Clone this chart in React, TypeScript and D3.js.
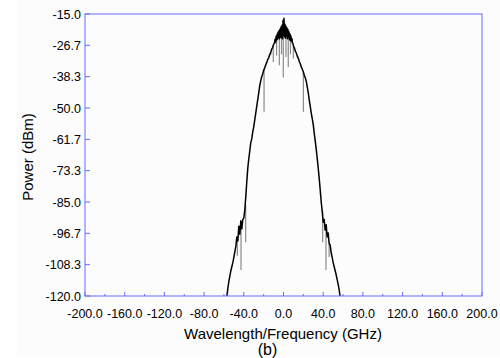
import * as d3 from "d3";

// main trace: [frequency GHz, power dBm]
const trace: [number, number][] = [
  [-57, -120], [-56, -117], [-55, -114.5], [-54, -112.5], [-53, -110.5], [-52, -109],
  [-51, -107.5], [-50, -105.5], [-49, -103.5], [-48, -101.5], [-47, -98], [-46, -99.5],
  [-45, -94], [-44, -97], [-43, -92], [-42, -95], [-41, -91.5], [-40, -91], [-39, -88],
  [-38, -83], [-37, -77.5], [-36, -72.5], [-35, -69], [-34, -66], [-33, -63], [-32, -61.5],
  [-31, -59], [-30, -57], [-29, -54.5], [-28, -52], [-27, -49.5], [-26, -47], [-25, -44.5],
  [-24, -41.8], [-23, -40], [-22, -38.4], [-21, -37.4], [-20, -36], [-19, -35.2], [-18, -34],
  [-17, -33.2], [-16, -32], [-15, -31.4], [-14, -30.2], [-13, -29.5], [-12, -28.2], [-11, -27.5],
  [-10, -26.4], [-9.5, -26], [-9, -25.5], [-8.5, -24.4], [-8, -25.6], [-7.5, -23.4], [-7, -24.8],
  [-6.5, -22.6], [-6, -24.4], [-5.5, -21.8], [-5, -23.8], [-4.5, -21.2], [-4, -24.2],
  [-3.5, -20.6], [-3, -23.6], [-2.5, -19.8], [-2, -23.8], [-1.5, -19.2], [-1, -24.2],
  [-0.5, -17.4], [0, -22.8], [0.5, -16.6], [1, -23.6], [1.5, -18.8], [2, -24], [2.5, -19.6],
  [3, -23.4], [3.5, -20.2], [4, -24.2], [4.5, -20.8], [5, -23.6], [5.5, -21.6], [6, -24.6],
  [6.5, -22.4], [7, -24.8], [7.5, -23.2], [8, -25.2], [8.5, -24.2], [9, -25.8], [9.5, -26],
  [10, -26.8], [11, -27.7], [12, -28.9], [13, -29.6], [14, -30.8], [15, -31.6], [16, -32.8],
  [17, -33.6], [18, -34.8], [19, -35.6], [20, -36.6], [21, -37.8], [22, -38.8], [23, -40.2],
  [24, -42.3], [25, -44.5], [26, -47.2], [27, -49.5], [28, -52], [29, -54], [30, -56.3],
  [31, -59.5], [32, -62.3], [33, -65.4], [34, -68.8], [35, -72.5], [36, -76.3], [37, -80.5],
  [38, -85], [39, -88.5], [40, -92.5], [41, -91.5], [42, -95.5], [43, -93.5], [44, -98],
  [45, -96.5], [46, -100.5], [47, -101], [48, -103.8], [49, -105.5], [50, -107.5], [51, -109],
  [52, -110.5], [53, -112], [54, -113.8], [55, -115.5], [56, -117.5], [57, -120],
];

// grey noise dips: frequency, top, bottom
const spikeFreq = [-19.6, -12.9, -10.3, -7, -4.2, -2, -0.2, 2.5, 4.8, 7, 9.9, 20, -46.5, -42.8, -38.1, 39.5, 42.8, 46];
const spikeTop = [-35.2, -29.5, -26.4, -24.8, -24.2, -23.8, -22.8, -24, -23.6, -24.8, -26.8, -36.6, -99.5, -92, -86, -88.5, -93.5, -100.5];
const spikeBottom = [-51.4, -30.4, -32.9, -30.5, -34.1, -30, -38.6, -31, -34.7, -30, -31.6, -51.4, -105, -110.3, -100, -100, -110.3, -105.5];

const yTicks = [-15, -26.667, -38.333, -50, -61.667, -73.333, -85, -96.667, -108.333, -120];
const xTicks = [-200, -160, -120, -80, -40, 0, 40, 80, 120, 160, 200];
const xMinor = [-180, -140, -100, -60, -20, 20, 60, 100, 140, 180];

const W = 500, H = 358;
const left = 85, right = 482, top = 14, bottom = 296;
const axisColor = "#6a6aff";
const font = "'Liberation Sans', Arial, sans-serif";

export default function App() {
  const x = d3.scaleLinear().domain([-200, 200]).range([left, right]);
  const y = d3.scaleLinear().domain([-120, -15]).range([bottom, top]);

  const line = d3.line<[number, number]>()
    .x(d => x(d[0]))
    .y(d => y(d[1]));

  return (
    <svg width={W} height={H} style={{ position: "absolute", left: 0, top: 0, background: "#fff" }}>
      <rect x={17} y={0} width={W - 17} height={356} fill="#fbfcfb" />

      {/* noise dips */}
      {spikeFreq.map((f, i) => (
        <line key={i} x1={x(f)} x2={x(f)} y1={y(spikeTop[i])} y2={y(spikeBottom[i])}
          stroke="#8a8a8a" strokeWidth={1.2} />
      ))}

      <path d={line(trace) || ""} fill="none" stroke="#000" strokeWidth={1.5} strokeLinejoin="round" />

      {/* frame */}
      <rect x={left} y={top} width={right - left} height={bottom - top} fill="none" stroke={axisColor} strokeWidth={1} />

      {/* y axis */}
      {yTicks.map(t => (
        <g key={t}>
          <line x1={left} x2={left + 5} y1={y(t)} y2={y(t)} stroke={axisColor} />
          <text x={left - 4} y={y(t)} dy="0.36em" textAnchor="end" fontSize={12.5} fontFamily={font} fill="#000">
            {t.toFixed(1)}
          </text>
        </g>
      ))}

      {/* x axis */}
      {xTicks.map(t => (
        <g key={t}>
          <line x1={x(t)} x2={x(t)} y1={bottom} y2={bottom - 4} stroke={axisColor} />
          <text x={x(t)} y={317.5} textAnchor="middle" fontSize={12.5} fontFamily={font} fill="#000">
            {t.toFixed(1)}
          </text>
        </g>
      ))}
      {xMinor.map(t => (
        <line key={t} x1={x(t)} x2={x(t)} y1={bottom} y2={bottom - 2} stroke={axisColor} />
      ))}

      <text transform={`translate(32.5, ${(top + bottom) / 2 + 2}) rotate(-90)`} textAnchor="middle"
        fontSize={15} fontFamily={font} fill="#000">Power (dBm)</text>
      <text x={283} y={339} textAnchor="middle" fontSize={15} fontFamily={font} fill="#000">
        Wavelength/Frequency (GHz)
      </text>
      <text x={267.5} y={355} textAnchor="middle" fontSize={16} fontFamily={font} fill="#000">(b)</text>
    </svg>
  );
}
